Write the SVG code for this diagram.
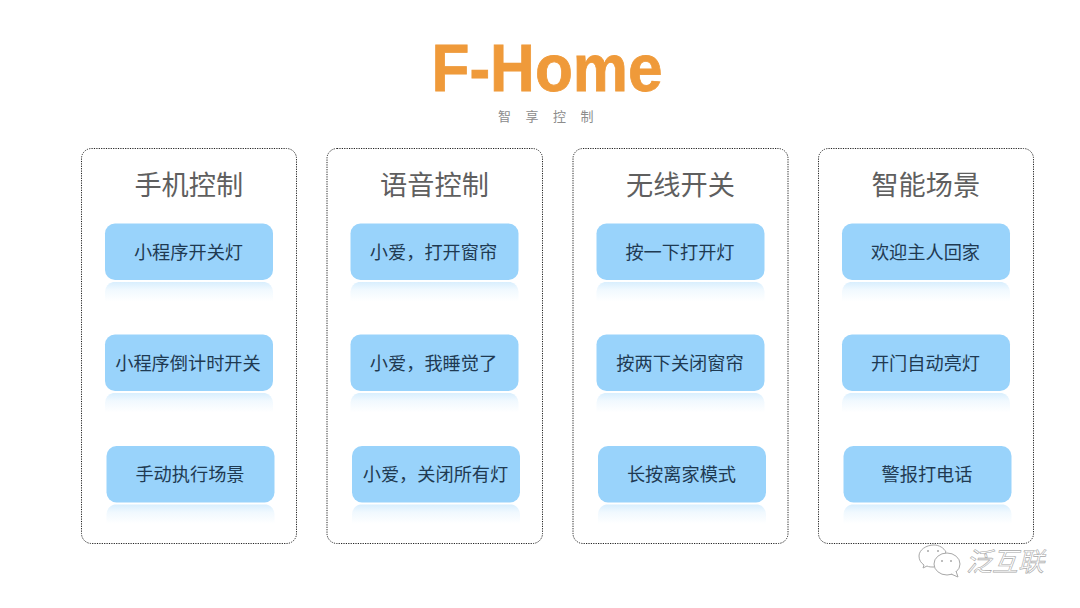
<svg xmlns="http://www.w3.org/2000/svg" xmlns:xlink="http://www.w3.org/1999/xlink" width="1080" height="608" viewBox="0 0 1080 608">
<style>
text{font-family:"Noto Sans CJK SC","Noto Sans",sans-serif;text-anchor:middle}
.panel{fill:#fff;stroke:#222;stroke-width:1;stroke-dasharray:1.2 1.2}
.head{font-size:27.200px;fill:#5f5f5f}
.btn{fill:#99d3fb}
.lab{font-size:18.200px;fill:#1f3a52}
.wm{font-size:26px;fill:#fff;stroke:#a8a8a8;stroke-width:.6;font-style:italic}
.bub{fill:#fff;stroke:#a8a8a8;stroke-width:1}
</style>
<defs>
<linearGradient id="refl" x1="0" y1="0" x2="0" y2="1">
<stop offset="0" stop-color="#99d3fb" stop-opacity=".38"/>
<stop offset=".4" stop-color="#99d3fb" stop-opacity=".14"/>
<stop offset="1" stop-color="#99d3fb" stop-opacity="0"/>
</linearGradient>
<g id="button"><path d="M0 68Q1 60 8 58.500H160Q167 60 168 68V78H0Z" fill="url(#refl)"/><rect class="btn" width="168" height="56.500" rx="10"/></g>
</defs>
<g id="title">
<text x="547" y="91" style="font-family:'Liberation Sans',Arial,sans-serif;font-size:66px;font-weight:700;fill:#ef9a3a;stroke:#ef9a3a;stroke-width:.8" textLength="231" lengthAdjust="spacingAndGlyphs">F-Home</text>
<text x="546" y="120.500" style="font-size:13px;fill:#8c8c8c;letter-spacing:14.500px" dx="7">智享控制</text>
</g>
<g id="connectors"/>
<g id="card1"><rect class="panel" x="81.500" y="148.500" width="215" height="395" rx="10"/><text class="head" x="188.800" y="195">手机控制</text></g>
<g id="card2"><rect class="panel" x="327" y="148.500" width="215.500" height="395" rx="10"/><text class="head" x="434.500" y="195">语音控制</text></g>
<g id="card3"><rect class="panel" x="573" y="148.500" width="215" height="395" rx="10"/><text class="head" x="680.500" y="195">无线开关</text></g>
<g id="card4"><rect class="panel" x="818.500" y="148.500" width="215" height="395" rx="10"/><text class="head" x="925.800" y="195">智能场景</text></g>
<g id="n11"><use xlink:href="#button" x="105" y="223.500"/><text class="lab" x="188.500" y="259">小程序开关灯</text></g>
<g id="n12"><use xlink:href="#button" x="105" y="334.500"/><text class="lab" x="188" y="370">小程序倒计时开关</text></g>
<g id="n13"><use xlink:href="#button" x="106.500" y="446"/><text class="lab" x="190" y="481">手动执行场景</text></g>
<g id="n21"><use xlink:href="#button" x="350.500" y="223.500"/><text class="lab" x="433.500" y="259">小爱，打开窗帘</text></g>
<g id="n22"><use xlink:href="#button" x="350.500" y="334.500"/><text class="lab" x="433.500" y="370">小爱，我睡觉了</text></g>
<g id="n23"><use xlink:href="#button" x="352" y="446"/><text class="lab" x="435.500" y="481">小爱，关闭所有灯</text></g>
<g id="n31"><use xlink:href="#button" x="596.500" y="223.500"/><text class="lab" x="680" y="259">按一下打开灯</text></g>
<g id="n32"><use xlink:href="#button" x="596.500" y="334.500"/><text class="lab" x="680" y="370">按两下关闭窗帘</text></g>
<g id="n33"><use xlink:href="#button" x="598" y="446"/><text class="lab" x="681.500" y="481">长按离家模式</text></g>
<g id="n41"><use xlink:href="#button" x="842" y="223.500"/><text class="lab" x="925.500" y="259">欢迎主人回家</text></g>
<g id="n42"><use xlink:href="#button" x="842" y="334.500"/><text class="lab" x="925.500" y="370">开门自动亮灯</text></g>
<g id="n43"><use xlink:href="#button" x="843.500" y="446"/><text class="lab" x="927" y="481">警报打电话</text></g>
<g id="watermark">
<path class="bub" d="M934 545C926 545 919 550 919 556C919 560 921 563 924 565L923 568L927 566C929 567 931 567 934 567L946 552C944 548 939 545 934 545Z"/>
<ellipse class="bub" cx="947" cy="564" rx="13" ry="11"/>
<path class="bub" d="M951 574L958 577L956 571"/>
<circle cx="942" cy="561" r="1" fill="#a8a8a8"/><circle cx="951" cy="561" r="1" fill="#a8a8a8"/>
<circle cx="928" cy="551" r="1" fill="#a8a8a8"/><circle cx="938" cy="551" r="1" fill="#a8a8a8"/>
<text class="wm" x="1005" y="571">泛互联</text>
</g>
</svg>
